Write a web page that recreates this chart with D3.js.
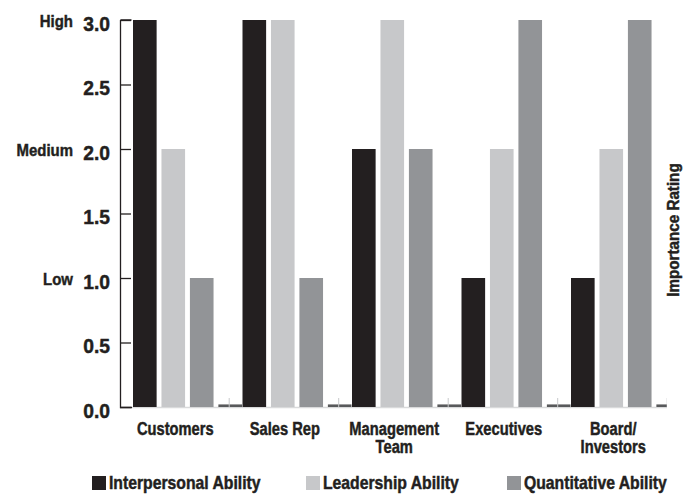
<!DOCTYPE html>
<meta charset="utf-8" />

<!-- Load d3.js -->
<script src="https://d3js.org/d3.v7.js"></script>

<style>
  body { margin: 0; background: #fff; }
  text { font-family: "Liberation Sans", Arial, sans-serif; font-weight: bold; fill: #231f20; stroke: #231f20; stroke-width: 0.45px; }
</style>

<div id="chart"></div>

<script>
  // data
  const categories = ["Customers", "Sales Rep", "Management Team", "Executives", "Board/ Investors"];
  const seriesNames = ["Interpersonal Ability", "Leadership Ability", "Quantitative Ability", "Other"];
  const interpersonal = [3, 3, 2, 1, 1];
  const leadership = [2, 3, 3, 2, 2];
  const quantitative = [1, 1, 2, 3, 3];
  const other = [0.02, 0.02, 0.02, 0.02, 0.02];
  const yTicks = [0, 0.5, 1, 1.5, 2, 2.5, 3];
  const levelLabels = [{ v: 3, t: "High" }, { v: 2, t: "Medium" }, { v: 1, t: "Low" }];

  const width = 694;
  const height = 494;
  const colors = ["#231f20", "#c7c8ca", "#929497", "#58595b"];

  const data = categories.map((c, i) => ({
    key: c,
    values: [interpersonal[i], leadership[i], quantitative[i], other[i]]
  }));

  // no condensed font here, so squeeze the text sideways
  const squeeze = (x, y, s) => "translate(" + x + "," + y + ") scale(" + s + ",1)";

  var svg = d3
    .select("#chart")
    .append("svg")
    .attr("width", width)
    .attr("height", height);

  // scales
  const x0 = d3.scaleBand().domain(categories).range([133, 133 + 5 * 109.5]).padding(0);
  const x1 = d3.scaleBand().domain(d3.range(4)).range([0, 109]).paddingInner(0.17).paddingOuter(0);
  const y = d3.scaleLinear().domain([0, 3]).range([407, 20]);

  // clip the plot at the right edge
  svg.append("clipPath").attr("id", "plotclip")
    .append("rect").attr("x", 120).attr("y", 0).attr("width", 547).attr("height", 420);

  const plot = svg.append("g").attr("clip-path", "url(#plotclip)");

  // light baseline
  plot.append("line")
    .attr("x1", 120).attr("x2", 667)
    .attr("y1", y(0) + 0.5).attr("y2", y(0) + 0.5)
    .attr("stroke", "#d9dadb").attr("stroke-width", 1.5);

  // bars
  const groups = plot.selectAll("g.grp")
    .data(data)
    .join("g")
    .attr("class", "grp")
    .attr("transform", (d) => "translate(" + x0(d.key) + ",0)");

  groups.selectAll("rect")
    .data((d) => d.values.map((v, i) => ({ v: v, i: i })))
    .join("rect")
    .attr("x", (d) => x1(d.i))
    .attr("y", (d) => y(d.v))
    .attr("width", x1.bandwidth())
    .attr("height", (d) => y(0) - y(d.v))
    .attr("fill", (d) => colors[d.i]);

  // little light marks at the 4th bar
  groups.append("line")
    .attr("x1", x1(3) + x1.bandwidth() / 2 - 1)
    .attr("x2", x1(3) + x1.bandwidth() / 2 - 1)
    .attr("y1", y(0) - 9).attr("y2", y(0))
    .attr("stroke", "#c7c8ca").attr("stroke-width", 1);

  // y axis, ticks pointing inward
  const yAxis = svg.append("g")
    .attr("transform", "translate(120,0)")
    .call(d3.axisRight(y).tickValues(yTicks).tickSize(11).tickFormat(""));
  yAxis.select(".domain").attr("stroke", "#231f20").attr("stroke-width", 1.3)
    .attr("d", "M0.5," + y(3) + "H11.5M0.5," + y(3) + "V" + (y(0) + 0.5) + "H12");
  yAxis.selectAll(".tick line").attr("stroke", "#231f20").attr("stroke-width", 1.3);

  // tick labels
  svg.append("g").selectAll("text")
    .data(yTicks)
    .join("text")
    .attr("transform", (d) => squeeze(110, y(d) + 10.5, 0.92))
    .attr("text-anchor", "end")
    .style("font-size", "21px")
    .text((d) => d.toFixed(1));

  svg.append("g").selectAll("text")
    .data(levelLabels)
    .join("text")
    .attr("transform", (d) => squeeze(73, y(d.v) + 7, 0.88))
    .attr("text-anchor", "end")
    .style("font-size", "17px")
    .text((d) => d.t);

  // category labels, centred under the first three bars
  const labelX = (c) => x0(c) + (x1(0) + x1(2) + x1.bandwidth()) / 2;
  const cat = svg.append("g").selectAll("text")
    .data(categories)
    .join("text")
    .attr("transform", (d) => squeeze(labelX(d) + 2, 435, 0.84))
    .attr("text-anchor", "middle")
    .style("font-size", "17.5px");
  cat.each(function (d) {
    const parts = d.indexOf("/") >= 0 ? d.split(" ") : d === "Management Team" ? ["Management", "Team"] : [d];
    d3.select(this).selectAll("tspan")
      .data(parts)
      .join("tspan")
      .attr("x", 0)
      .attr("dy", (p, i) => (i === 0 ? 0 : 18))
      .text((p) => p);
  });

  // right axis title
  svg.append("text")
    .attr("transform", "translate(679,230) rotate(-90) scale(0.95,1)")
    .attr("text-anchor", "middle")
    .style("font-size", "16px")
    .text("Importance Rating");

  // legend
  const legendX = [92, 306, 507];
  const legend = svg.append("g").selectAll("g")
    .data(seriesNames.slice(0, 3))
    .join("g")
    .attr("transform", (d, i) => "translate(" + legendX[i] + ",476)");
  legend.append("rect")
    .attr("width", 14).attr("height", 14)
    .attr("fill", (d, i) => colors[i]);
  legend.append("text")
    .attr("transform", squeeze(17, 13, 0.9))
    .style("font-size", "17.5px")
    .text((d) => d);
</script>
